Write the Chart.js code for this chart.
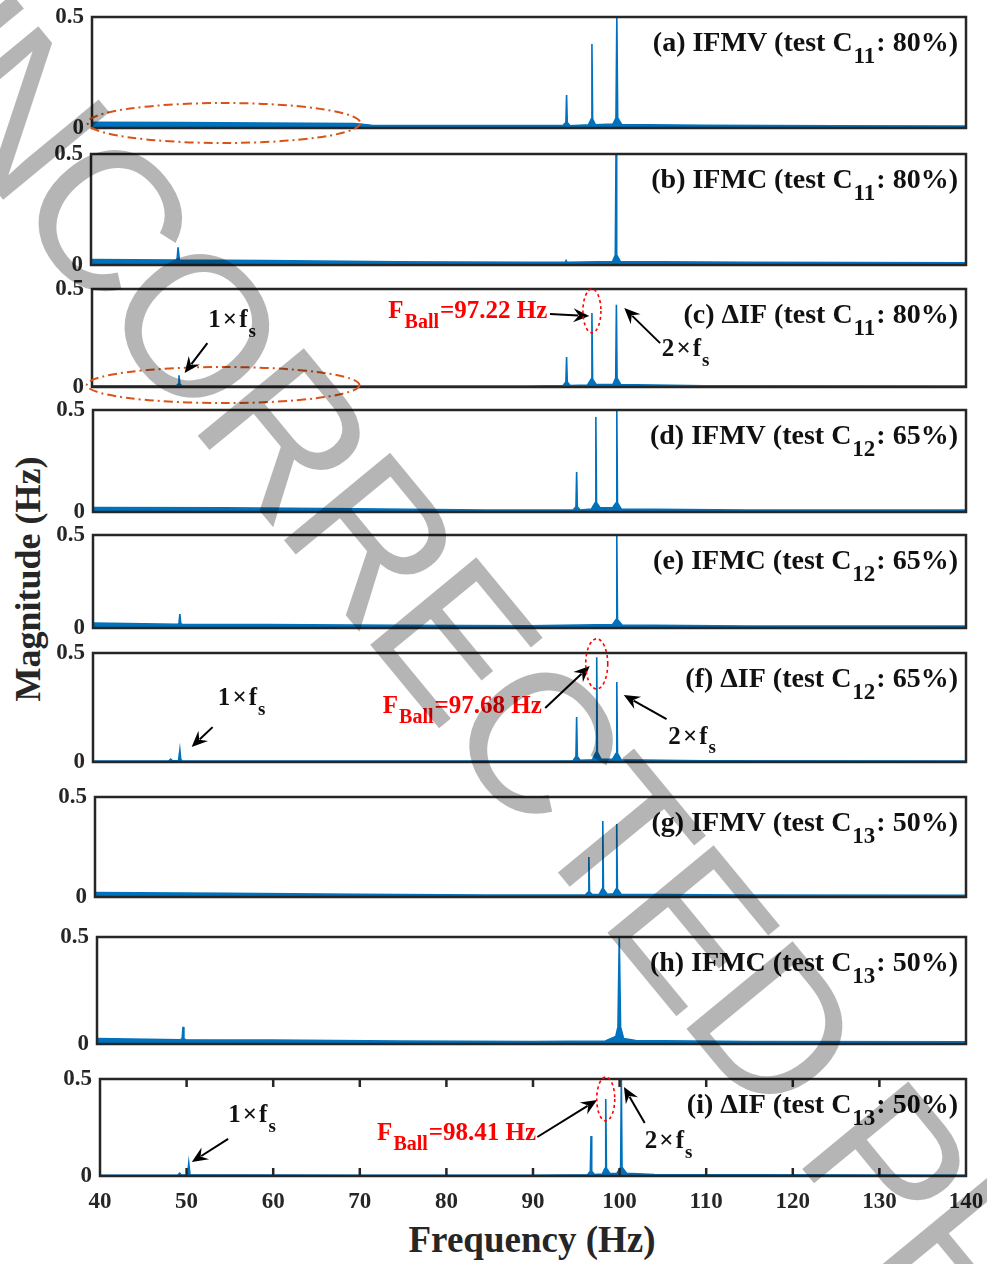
<!DOCTYPE html>
<html>
<head>
<meta charset="utf-8">
<script src="https://cdn.jsdelivr.net/npm/chart.js@4.4.1/dist/chart.umd.min.js"></script>
<style>
body { margin: 0; background: #fff; }
#page { position: relative; width: 987px; height: 1264px; overflow: hidden; background: #fff; }
.panel { position: absolute; left: 0; width: 987px; }
.axtitle { position: absolute; font-family: "Liberation Serif"; font-weight: bold; color: #262626; white-space: nowrap; }
#yTitle { font-size: 36px; left: 28px; top: 579px; transform: translate(-50%, -50%) rotate(-90deg); }
#xTitle { font-size: 37px; left: 532px; top: 1239px; transform: translate(-50%, -50%); }
#wm { position: absolute; left: 0; top: 0; pointer-events: none; }
</style>
</head>
<body>
<div id="page">
  <div id="yTitle" class="axtitle">Magnitude (Hz)</div>
  <div id="xTitle" class="axtitle">Frequency (Hz)</div>
  <canvas id="wm" width="987" height="1264"></canvas>
</div>
<script>
// ---- values (frequency in Hz, magnitude in Hz) ----
var freqA = [40, 50, 60, 70, 72, 85, 93.9, 94.22, 94.3, 94.38, 94.7, 96.8, 97.12, 97.2, 97.28, 97.6, 99.6, 99.95, 100.05, 100.15, 100.6, 110, 125, 140];
var magA  = [0.026, 0.024, 0.022, 0.02, 0.012, 0.011, 0.012, 0.025, 0.149, 0.025, 0.01, 0.014, 0.04, 0.378, 0.04, 0.014, 0.018, 0.045, 0.5, 0.045, 0.016, 0.012, 0.01, 0.009];

var freqB = [40, 49.7, 49.85, 49.95, 50.1, 60, 75, 90, 94.2, 94.3, 94.4, 99.6, 99.92, 100.0, 100.08, 100.5, 115, 140];
var magB  = [0.025, 0.022, 0.03, 0.08, 0.022, 0.02, 0.014, 0.012, 0.012, 0.02, 0.012, 0.016, 0.045, 0.5, 0.045, 0.015, 0.012, 0.01];

var freqC = [40, 48, 49.7, 49.85, 49.95, 50.05, 50.3, 70, 90, 93.9, 94.22, 94.3, 94.38, 94.7, 96.7, 97.12, 97.2, 97.28, 97.7, 99.6, 99.92, 100.0, 100.08, 100.5, 110, 140];
var magC  = [0.006, 0.006, 0.008, 0.015, 0.06, 0.015, 0.006, 0.005, 0.005, 0.008, 0.025, 0.153, 0.025, 0.008, 0.01, 0.04, 0.378, 0.04, 0.012, 0.013, 0.045, 0.42, 0.045, 0.012, 0.006, 0.005];

var freqD = [40, 55, 70, 85, 95.0, 95.32, 95.4, 95.48, 95.8, 97.1, 97.52, 97.6, 97.68, 98.1, 99.5, 99.92, 100.0, 100.08, 100.5, 115, 140];
var magD  = [0.022, 0.02, 0.016, 0.01, 0.01, 0.025, 0.196, 0.025, 0.01, 0.015, 0.045, 0.466, 0.045, 0.02, 0.02, 0.045, 0.5, 0.045, 0.015, 0.01, 0.009];

var freqE = [40, 49.7, 49.85, 49.95, 50.05, 50.2, 60, 75, 90, 99.5, 99.92, 100.0, 100.08, 100.6, 115, 140];
var magE  = [0.026, 0.02, 0.025, 0.075, 0.025, 0.02, 0.018, 0.014, 0.012, 0.018, 0.045, 0.5, 0.045, 0.016, 0.011, 0.01];

var freqF = [40, 48.7, 48.9, 49.1, 49.8, 49.95, 50.05, 50.2, 70, 90, 95.0, 95.32, 95.4, 95.48, 95.8, 97.2, 97.62, 97.7, 97.78, 98.2, 99.5, 99.92, 100.0, 100.08, 100.5, 110, 140];
var magF  = [0.004, 0.005, 0.013, 0.005, 0.006, 0.055, 0.012, 0.005, 0.004, 0.004, 0.006, 0.025, 0.206, 0.025, 0.008, 0.01, 0.045, 0.48, 0.045, 0.012, 0.012, 0.04, 0.367, 0.04, 0.01, 0.005, 0.004];

var freqG = [40, 55, 70, 85, 96.3, 96.62, 96.7, 96.78, 97.1, 97.9, 98.22, 98.3, 98.38, 98.8, 99.5, 99.82, 99.9, 99.98, 100.4, 115, 140];
var magG  = [0.022, 0.018, 0.014, 0.01, 0.01, 0.025, 0.2, 0.025, 0.012, 0.014, 0.04, 0.38, 0.04, 0.014, 0.016, 0.04, 0.365, 0.04, 0.014, 0.01, 0.009];

var freqH = [40, 49.6, 49.8, 49.9, 50.0, 50.2, 60, 75, 90, 98.5, 99.7, 99.95, 100.1, 100.25, 100.6, 102, 115, 140];
var magH  = [0.026, 0.02, 0.025, 0.08, 0.025, 0.02, 0.018, 0.014, 0.012, 0.014, 0.035, 0.08, 0.5, 0.08, 0.025, 0.016, 0.012, 0.01];

var freqI = [40, 49.0, 49.2, 49.4, 50.0, 50.15, 50.25, 50.4, 70, 90, 96.3, 96.62, 96.7, 96.78, 97.1, 98.0, 98.32, 98.4, 98.48, 98.9, 99.7, 100.12, 100.2, 100.28, 100.8, 104, 140];
var magI  = [0.004, 0.005, 0.015, 0.005, 0.006, 0.02, 0.067, 0.006, 0.004, 0.004, 0.006, 0.025, 0.206, 0.025, 0.008, 0.01, 0.04, 0.397, 0.04, 0.012, 0.014, 0.045, 0.5, 0.045, 0.014, 0.008, 0.004];

var panelTags = ['(a)', '(b)', '(c)', '(d)', '(e)', '(f)', '(g)', '(h)', '(i)'];
var methods = ['IFMV', 'IFMC', '\u0394IF', 'IFMV', 'IFMC', '\u0394IF', 'IFMV', 'IFMC', '\u0394IF'];
var testIds = ['11', '11', '11', '12', '12', '12', '13', '13', '13'];
var loads = ['80%', '80%', '80%', '65%', '65%', '65%', '50%', '50%', '50%'];
var ballFreqs = ['97.22', '97.68', '98.41'];
var xTickVals = [40, 50, 60, 70, 80, 90, 100, 110, 120, 130, 140];
var yTickVals = [0, 0.5];

var freqs = [freqA, freqB, freqC, freqD, freqE, freqF, freqG, freqH, freqI];
var mags = [magA, magB, magC, magD, magE, magF, magG, magH, magI];

// panel boxes on the page: left, top, right, bottom (px)
var boxes = [
  [92, 17, 966, 128], [91, 154, 966, 265], [92, 289, 966, 387],
  [93, 410, 966, 512], [93, 535, 966, 628], [93, 653, 966, 762],
  [95, 797, 966, 897], [97, 937, 966, 1044], [100, 1079, 966, 1176]
];

// annotation spots in data units [Hz, magnitude]
var notes = {
  2: { fsText: [53.3, 0.306], fsTail: [53.2, 0.224], fsHead: [50.6, 0.071],
       ballText: [73.9, 0.352], ballTail: [92.4, 0.372], ballHead: [96.9, 0.362], ring: [97.2, 0.388, 1.03, 0.112],
       fs2Text: [105.2, 0.158], fs2Tail: [105.0, 0.224], fs2Head: [100.9, 0.403],
       oval: [55.0, 0.01, 15.6, 0.092], ball: 0 },
  5: { fsText: [54.3, 0.261], fsTail: [53.7, 0.16], fsHead: [51.3, 0.069],
       ballText: [73.2, 0.225], ballTail: [91.8, 0.248], ballHead: [96.9, 0.44], ring: [97.7, 0.45, 1.26, 0.115],
       fs2Text: [105.9, 0.083], fs2Tail: [105.7, 0.197], fs2Head: [100.8, 0.307], ball: 1 },
  8: { fsText: [54.8, 0.278], fsTail: [54.8, 0.191], fsHead: [50.6, 0.072],
       ballText: [72.0, 0.186], ballTail: [90.5, 0.201], ballHead: [97.4, 0.392], ring: [98.4, 0.397, 1.04, 0.113],
       fs2Text: [102.9, 0.144], fs2Tail: [102.9, 0.273], fs2Head: [100.5, 0.459], ball: 2 }
};
var ovalA = [55.1, 0.0225, 15.6, 0.09];

var blue = '#0072BD';
var axisColor = '#262626';
var serif = '"Liberation Serif", "Times New Roman", serif';
var page = document.getElementById('page');

function px(chart, p) {
  return [chart.scales.x.getPixelForValue(p[0]), chart.scales.y.getPixelForValue(p[1])];
}

function arrow(ctx, from, to, color) {
  var dx = to[0] - from[0], dy = to[1] - from[1];
  var len = Math.sqrt(dx * dx + dy * dy);
  var ux = dx / len, uy = dy / len;
  var hl = 16, hw = 7;
  ctx.strokeStyle = color; ctx.fillStyle = color; ctx.lineWidth = 2; ctx.setLineDash([]);
  ctx.beginPath();
  ctx.moveTo(from[0], from[1]);
  ctx.lineTo(to[0] - ux * hl * 0.7, to[1] - uy * hl * 0.7);
  ctx.stroke();
  ctx.beginPath();
  ctx.moveTo(to[0], to[1]);
  ctx.lineTo(to[0] - ux * hl - uy * hw, to[1] - uy * hl + ux * hw);
  ctx.lineTo(to[0] - ux * hl * 0.65, to[1] - uy * hl * 0.65);
  ctx.lineTo(to[0] - ux * hl + uy * hw, to[1] - uy * hl - ux * hw);
  ctx.closePath();
  ctx.fill();
}

function subText(ctx, x, y, parts, size, subSize, color) {
  // parts: [main, sub, rest]
  ctx.fillStyle = color;
  ctx.textAlign = 'left'; ctx.textBaseline = 'alphabetic';
  ctx.font = 'bold ' + size + 'px ' + serif;
  ctx.fillText(parts[0], x, y);
  x += ctx.measureText(parts[0]).width + 1;
  ctx.font = 'bold ' + subSize + 'px ' + serif;
  ctx.fillText(parts[1], x, y + subSize * 0.5);
  x += ctx.measureText(parts[1]).width + 1;
  if (parts[2]) {
    ctx.font = 'bold ' + size + 'px ' + serif;
    ctx.fillText(parts[2], x, y);
  }
}

function ring(ctx, chart, r, color, dash, lw) {
  var c = px(chart, [r[0], r[1]]);
  var rx = Math.abs(chart.scales.x.getPixelForValue(r[0] + r[2]) - c[0]);
  var ry = Math.abs(chart.scales.y.getPixelForValue(r[1] + r[3]) - c[1]);
  ctx.save();
  ctx.strokeStyle = color; ctx.lineWidth = lw; ctx.setLineDash(dash);
  ctx.beginPath();
  ctx.ellipse(c[0], c[1], rx, ry, 0, 0, Math.PI * 2);
  ctx.stroke();
  ctx.restore();
}

function panelPlugin(i) {
  return {
    id: 'panelDeco' + i,
    afterDraw: function (chart) {
      var ctx = chart.ctx, a = chart.chartArea;
      ctx.save();
      // axes box
      ctx.strokeStyle = axisColor; ctx.lineWidth = 2.5; ctx.setLineDash([]);
      ctx.strokeRect(a.left, a.top, a.right - a.left, a.bottom - a.top);
      if (i === 8) {
        xTickVals.forEach(function (v) {
          if (v === 40 || v === 140) return;
          var x = chart.scales.x.getPixelForValue(v);
          ctx.beginPath();
          ctx.moveTo(x, a.top); ctx.lineTo(x, a.top + 8);
          ctx.moveTo(x, a.bottom); ctx.lineTo(x, a.bottom - 8);
          ctx.stroke();
        });
      }
      // panel title, right aligned
      var main = panelTags[i] + ' ' + methods[i] + ' (test C';
      var tail = ': ' + loads[i] + ')';
      ctx.font = 'bold 28px ' + serif;
      var w = ctx.measureText(main).width + ctx.measureText(tail).width + 2;
      ctx.font = 'bold 23px ' + serif;
      w += ctx.measureText(testIds[i]).width;
      subText(ctx, a.right - 8 - w, a.top + 34, [main, testIds[i], tail], 28, 23, '#111');

      if (i === 0) ring(ctx, chart, ovalA, '#D95319', [9, 4, 2, 4], 2);
      var n = notes[i];
      if (n) {
        if (n.oval) ring(ctx, chart, n.oval, '#D95319', [9, 4, 2, 4], 2);
        var t = px(chart, n.fsText);
        subText(ctx, t[0], t[1], ['1\u200a\u00d7\u200af', 's', ''], 25, 19, '#111');
        arrow(ctx, px(chart, n.fsTail), px(chart, n.fsHead), '#000');
        t = px(chart, n.fs2Text);
        subText(ctx, t[0], t[1], ['2\u200a\u00d7\u200af', 's', ''], 25, 19, '#111');
        arrow(ctx, px(chart, n.fs2Tail), px(chart, n.fs2Head), '#000');
        t = px(chart, n.ballText);
        subText(ctx, t[0], t[1], ['F', 'Ball', '=' + ballFreqs[n.ball] + ' Hz'], 25, 20, '#FF0000');
        arrow(ctx, px(chart, n.ballTail), px(chart, n.ballHead), '#000');
        ring(ctx, chart, n.ring, '#FF0000', [3, 3], 1.6);
      }
      ctx.restore();
    }
  };
}

function makePanel(i) {
  var box = boxes[i];
  var isLast = i === 8;
  var padT = 26, padB = 26, xAxisH = isLast ? 44 : 0;
  var h = (box[3] - box[1]) + padT + padB + xAxisH;
  var div = document.createElement('div');
  div.className = 'panel';
  div.style.top = (box[1] - padT) + 'px';
  div.style.height = h + 'px';
  var canvas = document.createElement('canvas');
  div.appendChild(canvas);
  page.insertBefore(div, document.getElementById('wm'));

  var pts = freqs[i].map(function (f, k) { return { x: f, y: mags[i][k] }; });
  var tickFont = { family: serif, size: 23, weight: 'bold' };

  new Chart(canvas, {
    type: 'line',
    data: {
      datasets: [{
        data: pts,
        borderColor: blue,
        backgroundColor: blue,
        borderWidth: 1.6,
        pointRadius: 0,
        fill: 'origin',
        tension: 0
      }]
    },
    options: {
      responsive: true,
      maintainAspectRatio: false,
      animation: false,
      layout: { padding: { top: padT, bottom: padB, left: 0, right: 987 - box[2] } },
      plugins: { legend: { display: false }, tooltip: { enabled: false } },
      scales: {
        x: {
          type: 'linear', min: 40, max: 140, display: isLast,
          afterBuildTicks: function (s) { s.ticks = xTickVals.map(function (v) { return { value: v }; }); },
          afterFit: function (s) { s.height = xAxisH; s.paddingLeft = 0; s.paddingRight = 0; },
          grid: { display: false, drawTicks: false }, border: { display: false },
          ticks: { font: tickFont, color: axisColor, padding: 12, maxRotation: 0, autoSkip: false,
                   callback: function (v) { return String(v); } }
        },
        y: {
          type: 'linear', min: 0, max: 0.5,
          afterBuildTicks: function (s) { s.ticks = yTickVals.map(function (v) { return { value: v }; }); },
          afterFit: function (s) { s.width = box[0]; },
          grid: { display: false, drawTicks: false }, border: { display: false },
          ticks: { font: tickFont, color: axisColor, padding: 8,
                   callback: function (v) { return String(v); } }
        }
      }
    },
    plugins: [panelPlugin(i)]
  });
}

for (var p = 0; p < 9; p++) makePanel(p);

// grey proof watermark on top of everything
var wm = document.getElementById('wm').getContext('2d');
var wmSize = 200;
wm.font = wmSize + 'px "Liberation Sans"';
wm.letterSpacing = '-9px';
var ang = 50.5 * Math.PI / 180;
var pre = wm.measureText('UNCO').width - wm.measureText('O').width / 2;
var capH = 0.716 * wmSize;
var cx = 196, cy = 321; // centre of the first O
var ux = Math.cos(ang), uy = Math.sin(ang), vx = Math.sin(ang), vy = -Math.cos(ang);
var sx = cx - ux * pre - vx * capH / 2, sy = cy - uy * pre - vy * capH / 2;
wm.save();
wm.translate(sx, sy);
wm.rotate(ang);
wm.fillStyle = 'rgba(0,0,0,0.29)';
wm.fillText('UNCORRECTED PROOF', 0, 0);
wm.restore();
</script>
</body>
</html>
